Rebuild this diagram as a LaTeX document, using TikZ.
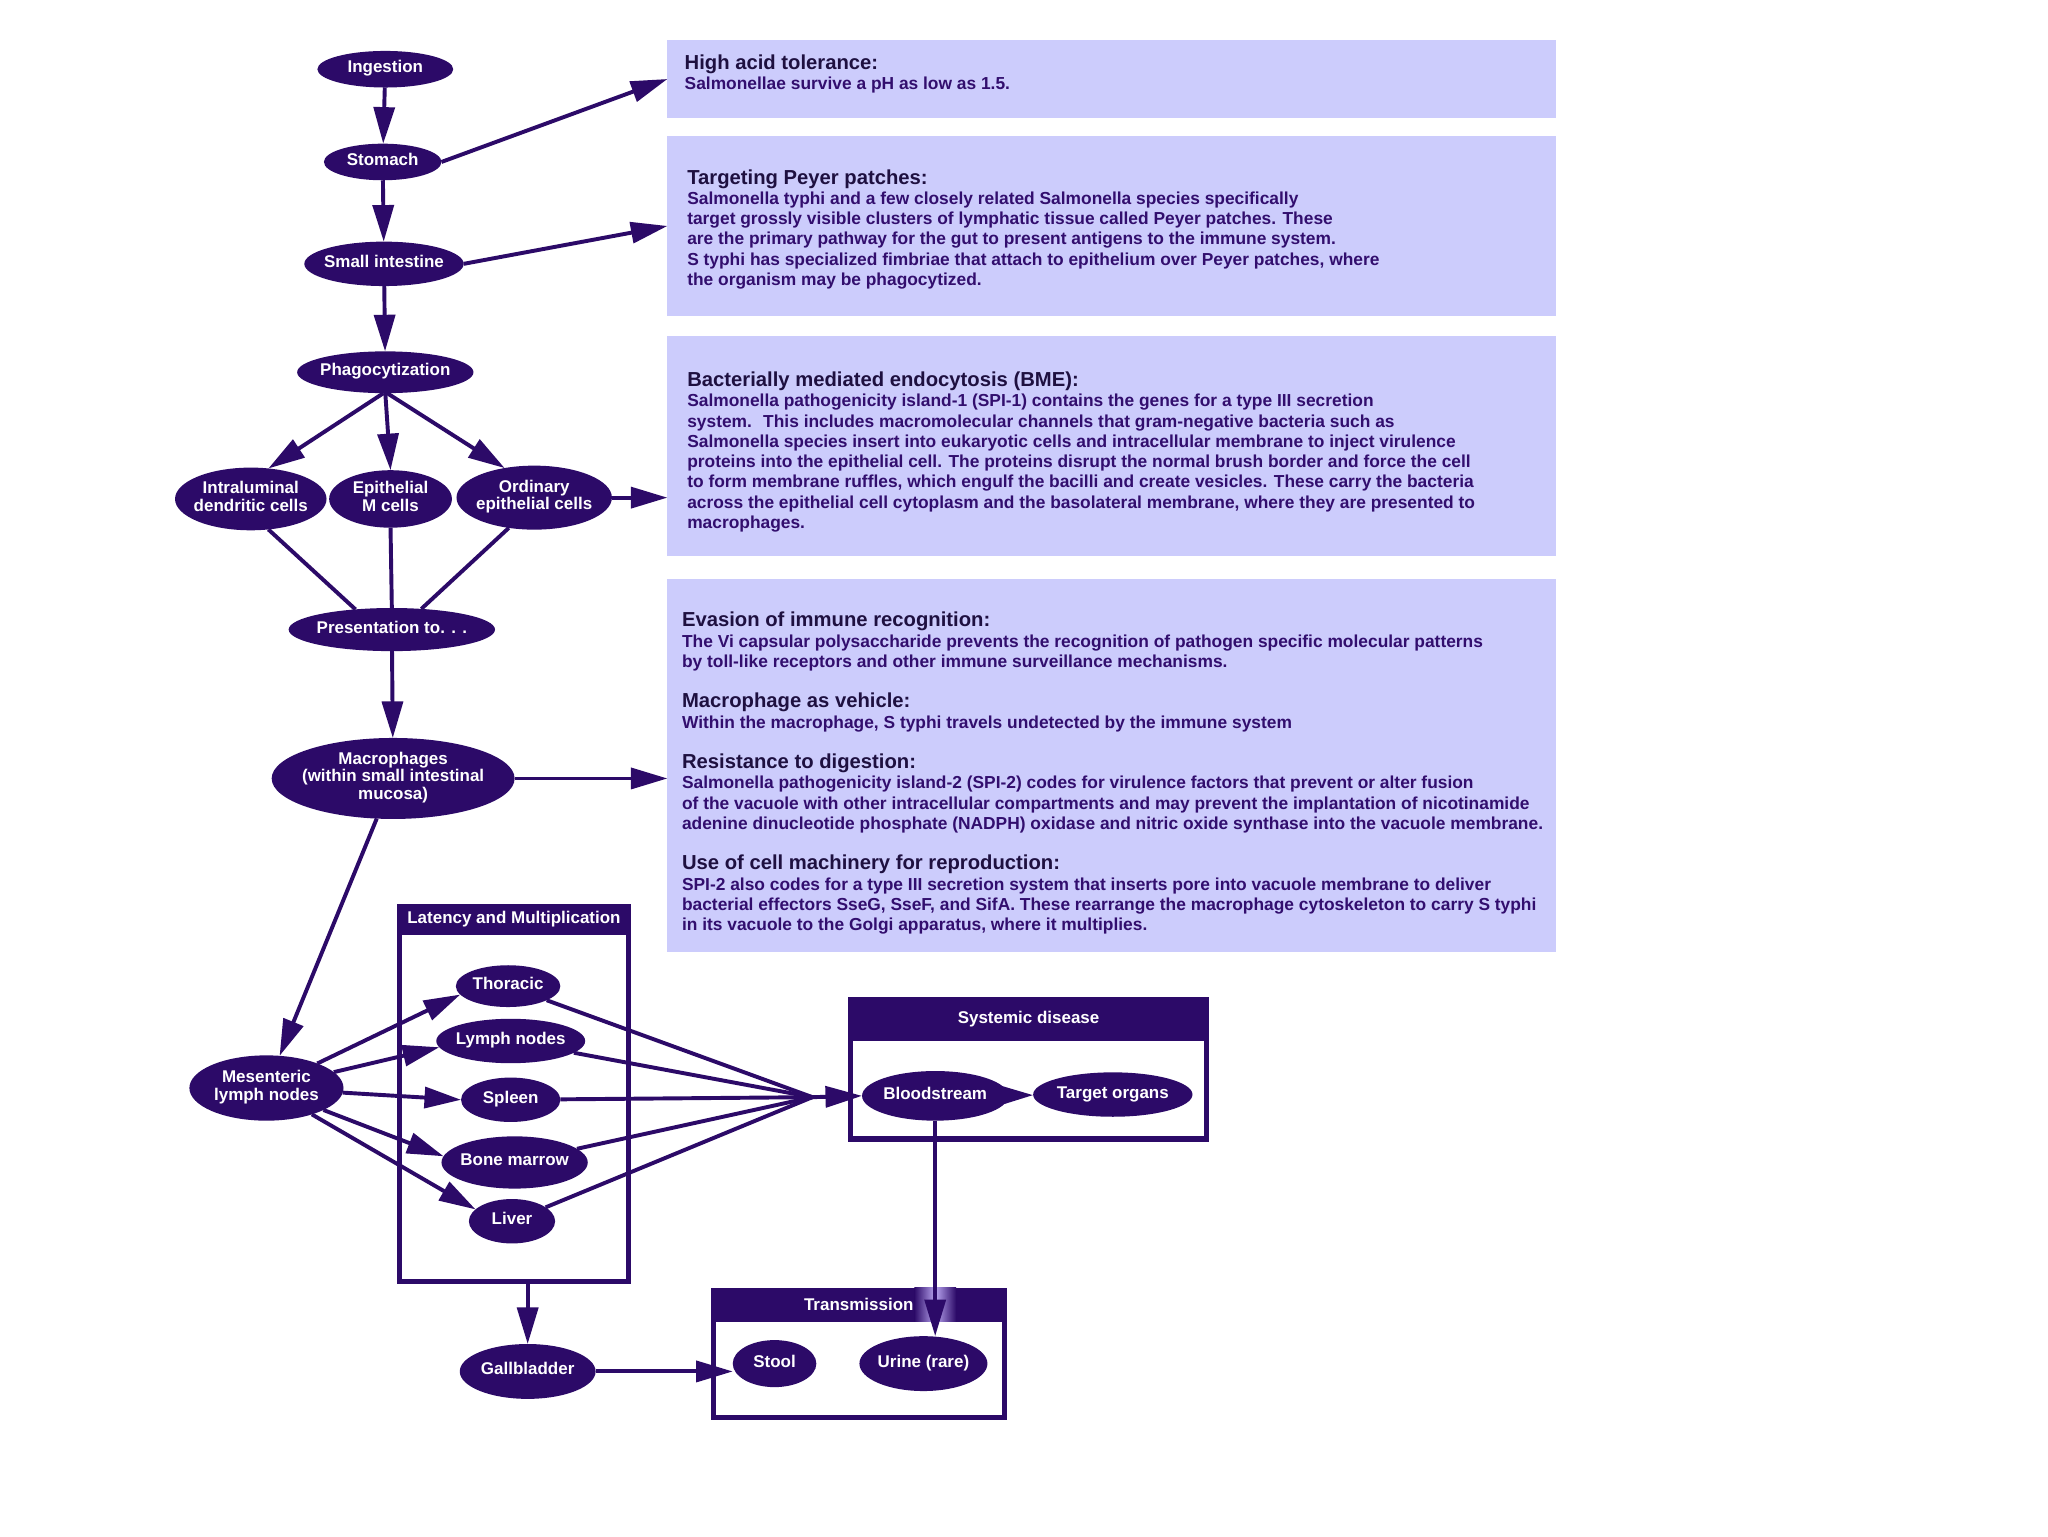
\documentclass[tikz,border=0pt]{standalone}
\usepackage{fontspec}
\setmainfont{Liberation Sans}
\usetikzlibrary{shapes.geometric,arrows.meta}
\definecolor{dp}{RGB}{44,10,104}
\definecolor{boxc}{RGB}{204,204,252}
\definecolor{bodyc}{RGB}{50,14,110}
\definecolor{headc}{RGB}{30,16,64}
\definecolor{glowc}{RGB}{185,165,240}
\newcommand{\hd}[1]{{\fontsize{15.5}{15.5}\selectfont\color{headc}#1}}
\newcommand{\zw}[1]{\makebox[0pt]{\begin{tabular}{@{}c@{}}#1\end{tabular}}}
\begin{document}
\begin{tikzpicture}[x=1pt,y=-1pt,
  oval/.style={ellipse, fill=dp, text=white, inner sep=0pt, outer sep=0pt, font=\fontsize{13}{13.5}\selectfont\bfseries},
  arr/.style={draw=dp, line width=3pt, -{Triangle[length=28pt,width=16pt]}},
  ln/.style={draw=dp, line width=3pt},
  info/.style={fill=boxc, inner sep=0pt, outer sep=0pt, anchor=north west},
  infotext/.style={anchor=north west, inner sep=0pt, align=left, text=bodyc, font=\fontsize{13.3}{15.5}\selectfont\bfseries},
  frame/.style={draw=dp, line width=4pt, inner sep=0pt, outer sep=0pt, anchor=north west},
  band/.style={fill=dp, inner sep=0pt, outer sep=0pt, anchor=north west},
  bandtext/.style={text=white, inner sep=0pt, font=\fontsize{13}{13.5}\selectfont\bfseries}
]
\useasboundingbox[fill=white] (0,0) rectangle (1568,1176);

% information boxes
\node[info, minimum width=680pt, minimum height=59pt] (b1) at (511,31) {};
\node[info, minimum width=680pt, minimum height=138pt] (b2) at (511,104) {};
\node[info, minimum width=680pt, minimum height=169pt] (b3) at (511,257) {};
\node[info, minimum width=680pt, minimum height=286pt] (b4) at (511,443) {};

\node[infotext] (t1) at (524,41.5) {\hd{High acid tolerance:}\\
Salmonellae survive a pH as low as 1.5.};
\node[infotext] (t2) at (526,129.5) {\hd{Targeting Peyer patches:}\\
Salmonella typhi and a few closely related Salmonella species specifically\\
target grossly visible clusters of lymphatic tissue called Peyer patches. These\\
are the primary pathway for the gut to present antigens to the immune system.\\
S typhi has specialized fimbriae that attach to epithelium over Peyer patches, where\\
the organism may be phagocytized.};
\node[infotext] (t3) at (526,284.5) {\hd{Bacterially mediated endocytosis (BME):}\\
Salmonella pathogenicity island-1 (SPI-1) contains the genes for a type III secretion\\
system. \ This includes macromolecular channels that gram-negative bacteria such as\\
Salmonella species insert into eukaryotic cells and intracellular membrane to inject virulence\\
proteins into the epithelial cell. The proteins disrupt the normal brush border and force the cell\\
to form membrane ruffles, which engulf the bacilli and create vesicles. These carry the bacteria\\
across the epithelial cell cytoplasm and the basolateral membrane, where they are presented to\\
macrophages.};
\node[infotext] (t4) at (522,468.5) {\hd{Evasion of immune recognition:}\\
The Vi capsular polysaccharide prevents the recognition of pathogen specific molecular patterns\\
by toll-like receptors and other immune surveillance mechanisms.\\[15.5pt]
\hd{Macrophage as vehicle:}\\
Within the macrophage, S typhi travels undetected by the immune system\\[15.5pt]
\hd{Resistance to digestion:}\\
Salmonella pathogenicity island-2 (SPI-2) codes for virulence factors that prevent or alter fusion\\
of the vacuole with other intracellular compartments and may prevent the implantation of nicotinamide\\
adenine dinucleotide phosphate (NADPH) oxidase and nitric oxide synthase into the vacuole membrane.\\[15.5pt]
\hd{Use of cell machinery for reproduction:}\\
SPI-2 also codes for a type III secretion system that inserts pore into vacuole membrane to deliver\\
bacterial effectors SseG, SseF, and SifA. These rearrange the macrophage cytoskeleton to carry S typhi\\
in its vacuole to the Golgi apparatus, where it multiplies.};

% ellipse nodes
\node[oval, minimum width=104pt, minimum height=28pt] (ing) at (295,53) {\zw{Ingestion}};
\node[oval, minimum width=90pt, minimum height=28pt] (sto) at (293,124) {\zw{Stomach}};
\node[oval, minimum width=122pt, minimum height=34pt] (si) at (294,202) {\zw{Small intestine}};
\node[oval, minimum width=135pt, minimum height=32pt] (phag) at (295,285) {\zw{Phagocytization}};
\node[oval, minimum width=116pt, minimum height=48pt] (intra) at (192,382) {\zw{Intraluminal\\dendritic cells}};
\node[oval, minimum width=94pt, minimum height=44pt] (epi) at (299,382) {\zw{Epithelial\\M cells}};
\node[oval, minimum width=119pt, minimum height=49pt] (ord) at (409,381) {\zw{Ordinary\\epithelial cells}};
\node[oval, minimum width=158pt, minimum height=33pt] (pres) at (300,482) {\zw{Presentation to. . .}};
\node[oval, minimum width=186pt, minimum height=62pt] (mac) at (301,596) {\zw{Macrophages\\(within small intestinal\\mucosa)}};
\node[oval, minimum width=118pt, minimum height=50pt] (mes) at (204,833) {\zw{Mesenteric\\lymph nodes}};
\node[oval, minimum width=80pt, minimum height=32pt] (thor) at (389,755) {\zw{Thoracic}};
\node[oval, minimum width=114pt, minimum height=34pt] (lymph) at (391,797) {\zw{Lymph nodes}};
\node[oval, minimum width=76pt, minimum height=34pt] (spl) at (391,842) {\zw{Spleen}};
\node[oval, minimum width=112pt, minimum height=40pt] (bone) at (394,890) {\zw{Bone marrow}};
\node[oval, minimum width=66pt, minimum height=34pt] (liv) at (392,935) {\zw{Liver}};
\node[oval, minimum width=104pt, minimum height=42pt] (gall) at (404,1050) {\zw{Gallbladder}};
\node[oval, minimum width=112pt, minimum height=38pt] (blood) at (716,839) {\zw{Bloodstream}};
\node[oval, minimum width=122pt, minimum height=34pt] (targ) at (852,838) {\zw{Target organs}};
\node[oval, minimum width=64pt, minimum height=36pt] (stool) at (593,1044) {\zw{Stool}};
\node[oval, minimum width=98pt, minimum height=42pt] (urine) at (707,1044) {\zw{Urine (rare)}};

% containers
\node[frame, minimum width=175pt, minimum height=287pt] (lat) at (306,694) {};
\node[band, minimum width=179pt, minimum height=24pt] (lath) at (304,692) {};
\node[bandtext] (latt) at (lath) {Latency and Multiplication};
\node[frame, minimum width=273pt, minimum height=107pt] (sys) at (651,765) {};
\node[band, minimum width=277pt, minimum height=34pt] (sysh) at (649,763) {};
\node[bandtext] (syst) at (sysh) {Systemic disease};
\node[frame, minimum width=223pt, minimum height=97pt] (tra) at (546,988) {};
\node[band, minimum width=227pt, minimum height=26pt] (trah) at (544,986) {};
% glow behind the arrowhead in the Transmission band
\shade[left color=dp, right color=dp, middle color=glowc]
  ([xshift=-16pt]trah.north -| blood.south) rectangle ([xshift=16pt]trah.south -| blood.south);
\node[bandtext] (trat) at (trah) {Transmission};

\coordinate (conv) at (622,840);

% connectors
\draw[arr] (ing) -- (sto);
\draw[arr] (sto) -- (si);
\draw[arr] (si) -- (phag);
\draw[arr] (sto.east) -- (b1.west);
\draw[arr] (si.east) -- (b2.west);
\draw[arr] (phag.-95) -- (intra.60);
\draw[arr] (phag.-90) -- (epi.north);
\draw[arr] (phag.-85) -- (ord.135);
\draw[arr] (ord.east) -- (ord.east -| b3.west);
\draw[ln] (intra.-60) -- (pres.151);
\draw[ln] (epi.south) -- (pres.north);
\draw[ln] (ord.-130) -- (pres.35);
\draw[arr] (pres) -- (mac);
\draw[arr] (mac.east) -- (mac.east -| b4.west);
\draw[arr] (mac) -- (mes);
\draw[arr] (mes) -- (thor.190);
\draw[arr] (mes) -- (lymph.185);
\draw[arr] (mes) -- (spl.west);
\draw[arr] (mes) -- (bone.175);
\draw[arr] (mes) -- (liv.162);
\draw[ln] (thor) -- (conv);
\draw[ln] (lymph) -- (conv);
\draw[ln] (spl) -- (conv);
\draw[ln] (bone) -- (conv);
\draw[ln] (liv) -- (conv);
\draw[arr] (conv) -- (blood.west);
\draw[arr] (blood) -- (targ);
\draw[arr] (blood.south) -- (blood.south |- urine.north);
\draw[arr] (gall.north |- lat.south) -- (gall.north);
\draw[arr] (gall.east) -- (gall.east -| stool.west);
\end{tikzpicture}
\end{document}
